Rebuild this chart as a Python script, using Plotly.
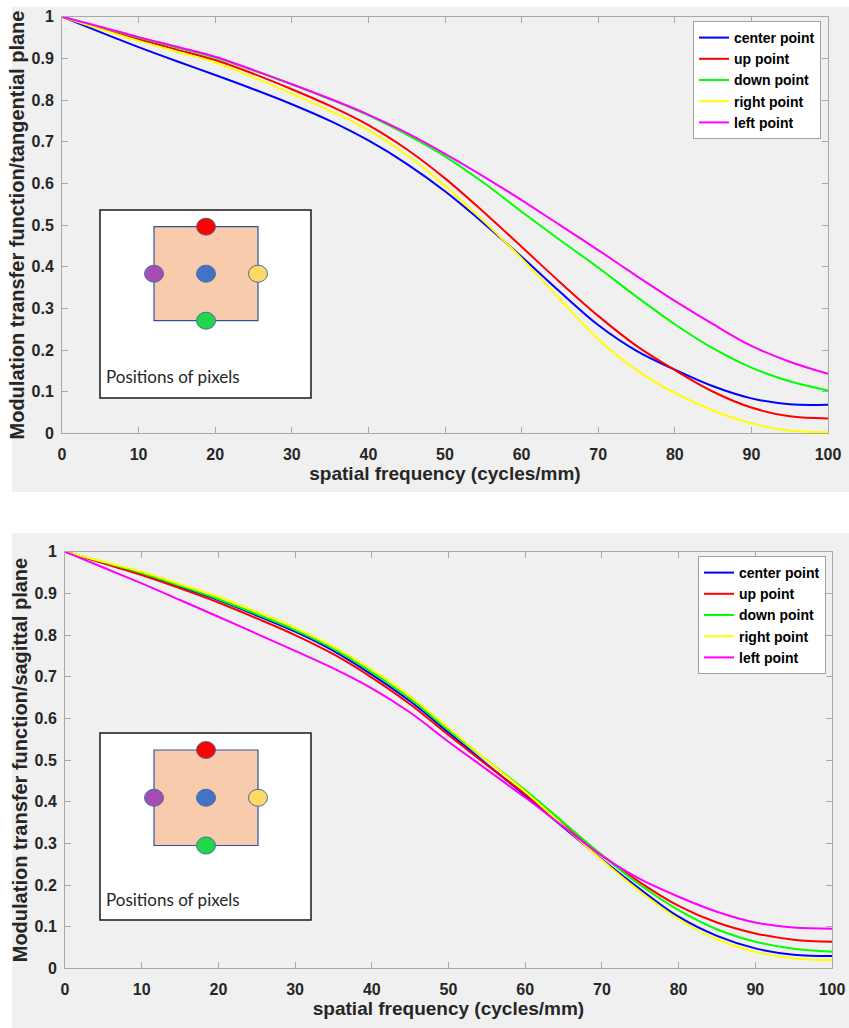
import plotly.graph_objects as go

# Figure size in pixels
W, H = 849, 1028

# Spatial frequency samples (cycles/mm)
freq = [0, 5, 10, 15, 20, 25, 30, 35, 40, 45, 50,
        55, 60, 65, 70, 75, 80, 85, 90, 95, 100]

# MTF, tangential plane
tan_center = [1, 0.963, 0.927, 0.893, 0.860, 0.826, 0.790, 0.750, 0.703, 0.647, 0.581,
              0.505, 0.424, 0.340, 0.260, 0.198, 0.153, 0.113, 0.084, 0.070, 0.069]
tan_up     = [1, 0.972, 0.946, 0.921, 0.896, 0.863, 0.826, 0.786, 0.740, 0.682, 0.612,
              0.532, 0.448, 0.363, 0.282, 0.210, 0.152, 0.100, 0.062, 0.041, 0.036]
tan_down   = [1, 0.975, 0.950, 0.926, 0.902, 0.871, 0.838, 0.802, 0.763, 0.717, 0.665,
              0.602, 0.532, 0.464, 0.398, 0.328, 0.262, 0.204, 0.158, 0.125, 0.103]
tan_right  = [1, 0.970, 0.942, 0.916, 0.890, 0.854, 0.815, 0.774, 0.728, 0.668, 0.594,
              0.510, 0.420, 0.322, 0.226, 0.152, 0.097, 0.055, 0.024, 0.007, 0.003]
tan_left   = [1, 0.976, 0.951, 0.928, 0.904, 0.872, 0.838, 0.803, 0.765, 0.721, 0.671,
              0.617, 0.560, 0.500, 0.440, 0.378, 0.318, 0.262, 0.210, 0.172, 0.143]

# MTF, sagittal plane
sag_center = [1, 0.974, 0.947, 0.916, 0.884, 0.847, 0.808, 0.762, 0.705, 0.641, 0.566,
              0.490, 0.415, 0.338, 0.262, 0.190, 0.124, 0.078, 0.048, 0.033, 0.030]
sag_up     = [1, 0.972, 0.944, 0.912, 0.878, 0.840, 0.800, 0.754, 0.698, 0.634, 0.560,
              0.488, 0.418, 0.344, 0.272, 0.206, 0.150, 0.110, 0.084, 0.069, 0.064]
sag_down   = [1, 0.975, 0.949, 0.918, 0.886, 0.850, 0.812, 0.767, 0.711, 0.647, 0.572,
              0.500, 0.428, 0.350, 0.272, 0.200, 0.140, 0.094, 0.064, 0.047, 0.040]
sag_right  = [1, 0.976, 0.952, 0.922, 0.892, 0.856, 0.818, 0.772, 0.717, 0.653, 0.577,
              0.500, 0.424, 0.342, 0.260, 0.184, 0.118, 0.070, 0.040, 0.024, 0.020]
sag_left   = [1, 0.962, 0.924, 0.884, 0.844, 0.803, 0.762, 0.720, 0.672, 0.614, 0.544,
              0.477, 0.410, 0.340, 0.270, 0.214, 0.172, 0.136, 0.110, 0.098, 0.095]

series_names = ["center point", "up point", "down point", "right point", "left point"]
series_colors = ["#0000FF", "#FF0000", "#00FF00", "#FFFF00", "#FF00FF"]

tangential = [tan_center, tan_up, tan_down, tan_right, tan_left]
sagittal = [sag_center, sag_up, sag_down, sag_right, sag_left]


def fx(p):
    """pixel x -> paper x"""
    return p / W


def fy(p):
    """pixel y (from top) -> paper y"""
    return 1 - p / H


FAMILY = "Liberation Sans, Arial, sans-serif"
TICK_FONT = dict(family=FAMILY, size=16, color="#262626", weight="bold")
XTITLE_FONT = dict(family=FAMILY, size=19, color="#262626", weight="bold")
YTITLE_FONT = dict(family=FAMILY, size=20, color="#262626", weight="bold")
LEG_FONT = dict(family=FAMILY, size=14, color="#000000", weight="bold")
AXIS_GRAY = "#A8A8A8"

fig = go.Figure()

for name, color, ys in zip(series_names, series_colors, tangential):
    fig.add_trace(go.Scatter(
        x=freq, y=ys, mode="lines", name=name,
        line=dict(color=color, width=2, shape="spline", smoothing=1.0),
        xaxis="x", yaxis="y", legend="legend",
    ))

for name, color, ys in zip(series_names, series_colors, sagittal):
    fig.add_trace(go.Scatter(
        x=freq, y=ys, mode="lines", name=name,
        line=dict(color=color, width=2, shape="spline", smoothing=1.0),
        xaxis="x2", yaxis="y2", legend="legend2",
    ))


def x_axis(domain, anchor):
    return dict(
        domain=domain, anchor=anchor, range=[0, 100], dtick=10, tick0=0,
        ticks="inside", ticklen=6, tickcolor=AXIS_GRAY, mirror="ticks",
        showline=True, linecolor=AXIS_GRAY, linewidth=1,
        showgrid=False, zeroline=False, tickfont=TICK_FONT,
        ticklabelstandoff=6, automargin=False,
        title=dict(text="spatial frequency (cycles/mm)", font=XTITLE_FONT, standoff=5),
    )


def y_axis(domain, anchor, title):
    return dict(
        domain=domain, anchor=anchor, range=[0, 1], dtick=0.1, tick0=0,
        ticks="inside", ticklen=6, tickcolor=AXIS_GRAY, mirror="ticks",
        showline=True, linecolor=AXIS_GRAY, linewidth=1,
        showgrid=False, zeroline=False, tickfont=TICK_FONT,
        ticklabelstandoff=4, automargin=False,
        title=dict(text=title, font=YTITLE_FONT, standoff=1),
    )


fig.update_layout(
    width=W, height=H,
    margin=dict(l=0, r=0, t=0, b=0, autoexpand=False),
    paper_bgcolor="white", plot_bgcolor="white",
    xaxis=x_axis([fx(62), fx(828)], "y"),
    yaxis=y_axis([fy(433.4), fy(16.7)], "x", "Modulation transfer function/tangential plane"),
    xaxis2=x_axis([fx(65), fx(832)], "y2"),
    yaxis2=y_axis([fy(968.4), fy(551.7)], "x2", "Modulation transfer function/sagittal plane"),
    legend=dict(
        x=fx(821), xanchor="right", y=fy(21), yanchor="top",
        bgcolor="white", bordercolor="#A0A0A0", borderwidth=1,
        font=LEG_FONT, itemwidth=30, tracegroupgap=0,
    ),
    legend2=dict(
        x=fx(826), xanchor="right", y=fy(556), yanchor="top",
        bgcolor="white", bordercolor="#A0A0A0", borderwidth=1,
        font=LEG_FONT, itemwidth=30, tracegroupgap=0,
    ),
    showlegend=True,
)

shapes = []
annotations = []

# Grey figure panels behind each axes
for top, bottom in [(7, 492), (533, 1028)]:
    shapes.append(dict(
        type="rect", xref="paper", yref="paper", layer="below",
        x0=fx(12), x1=fx(849), y0=fy(bottom), y1=fy(top),
        fillcolor="#F0F0F0", line=dict(width=0),
    ))


def pixel_diagram(box_top, box_bottom, sq_top, sq_bottom, text_y):
    """Inset sketch showing where the five sampled pixels sit."""
    shapes.append(dict(
        type="rect", xref="paper", yref="paper", layer="above",
        x0=fx(100), x1=fx(311), y0=fy(box_bottom), y1=fy(box_top),
        fillcolor="white", line=dict(color="#1A1A1A", width=1.5),
    ))
    shapes.append(dict(
        type="rect", xref="paper", yref="paper", layer="above",
        x0=fx(154), x1=fx(258), y0=fy(sq_bottom), y1=fy(sq_top),
        fillcolor="#F8CBAD", line=dict(color="#2F5597", width=1.2),
    ))
    mid_y = (sq_top + sq_bottom) / 2
    dots = [
        (206, sq_top, "#FF0000"),
        (154, mid_y, "#A64DB5"),
        (206, mid_y, "#4472C4"),
        (258, mid_y, "#FFD966"),
        (206, sq_bottom, "#22D64A"),
    ]
    for cx, cy, col in dots:
        shapes.append(dict(
            type="circle", xref="paper", yref="paper", layer="above",
            x0=fx(cx - 9.5), x1=fx(cx + 9.5), y0=fy(cy + 8.5), y1=fy(cy - 8.5),
            fillcolor=col, line=dict(color="#41719C", width=1),
        ))
    annotations.append(dict(
        text="Positions of pixels", xref="paper", yref="paper",
        x=fx(104), y=fy(text_y), xanchor="left", yanchor="middle",
        showarrow=False, font=dict(family="Lato, Open Sans, sans-serif", size=17, color="#262626"),
    ))


pixel_diagram(210, 398, 226.7, 320.7, 376)
pixel_diagram(733, 920, 750, 845.5, 899)

fig.update_layout(shapes=shapes, annotations=annotations)

fig.write_html("out.html")
